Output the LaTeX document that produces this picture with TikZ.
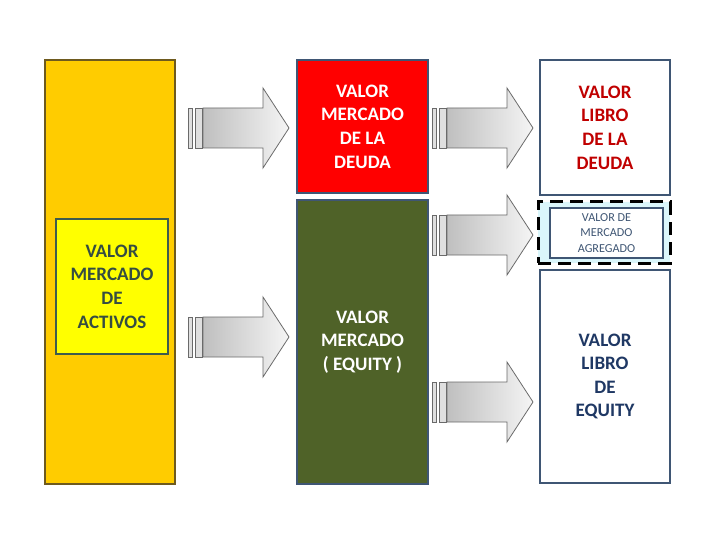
\documentclass[tikz,border=0pt]{standalone}
\usepackage{fontspec}
\setmainfont{Carlito}
\definecolor{gold}{HTML}{FFCC00}
\definecolor{goldline}{HTML}{6E5A1E}
\definecolor{yel}{HTML}{FFFF00}
\definecolor{yelline}{HTML}{3E5B4E}
\definecolor{bluegray}{HTML}{3F5674}
\definecolor{olive}{HTML}{4F6228}
\definecolor{darkred}{HTML}{C00000}
\definecolor{navy}{HTML}{1F3864}
\definecolor{lightcyan}{HTML}{DAF6FB}
\definecolor{arrowline}{HTML}{6A6A6A}
\tikzset{
  panel/.style={rectangle, inner sep=0pt, align=center, line width=2pt, draw=bluegray},
  bigtext/.style={font=\fontsize{19}{23.6}\selectfont\bfseries},
  smalltext/.style={font=\fontsize{12.2}{15.2}\selectfont},
  arrowbody/.style={left color=gray!50, right color=gray!8, draw=arrowline, line width=0.8pt},
  arrowbar/.style={fill=gray!25, draw=arrowline, line width=0.8pt},
}
\newcommand\bigarrow[3]{%
  \begin{scope}[shift={(#1,#2)}]
    \draw[arrowbar] (0,-20) rectangle (4,20);
    \draw[arrowbar] (7,-20) rectangle (14,20);
    \shadedraw[arrowbody] (15,-20) -- (75,-20) -- (75,-40) -- (101,0) -- (75,40) -- (75,20) -- (15,20) -- cycle;
    \coordinate (#3) at (101,0);
  \end{scope}}
\begin{document}
\begin{tikzpicture}[x=1pt,y=-1pt]
\useasboundingbox (0,0) rectangle (720,540);
% left column
\node[rectangle, fill=gold, draw=goldline, line width=1.2pt, minimum width=130pt, minimum height=424pt] (assets) at (110,272) {};
\node[rectangle, fill=yel, draw=yelline, line width=2.5pt, minimum width=112pt, minimum height=135pt, align=center, text=yelline!85!black, bigtext] (activos) at (112,286.5) {VALOR\\MERCADO\\DE\\ACTIVOS};
% left arrows
\bigarrow{188}{128}{a1}
\bigarrow{188}{337}{a2}
% middle column
\node[panel, fill=red, minimum width=131pt, minimum height=133pt, text=white, bigtext] (deuda) at (362.5,126.5) {VALOR\\MERCADO\\DE LA\\DEUDA};
\node[panel, fill=olive, minimum width=131pt, minimum height=284pt, text=white, bigtext] (equity) at (362.5,342) {VALOR\\MERCADO\\( EQUITY )};
% right arrows
\bigarrow{432}{128}{a3}
\bigarrow{432}{235}{a4}
\bigarrow{432}{402}{a5}
% right column
\node[panel, fill=white, minimum width=130pt, minimum height=135pt, text=darkred, bigtext] (libdeuda) at (605,127.5) {VALOR\\LIBRO\\DE LA\\DEUDA};
\node[rectangle, fill=lightcyan, draw=black, line width=3pt, dash pattern=on 13pt off 7pt, minimum width=132pt, minimum height=61pt] (agrbox) at (604,232.5) {};
\node[panel, fill=white, line width=2.5pt, minimum width=113pt, minimum height=50pt, text=bluegray, smalltext] (agregado) at (606.5,233) {VALOR DE\\MERCADO\\AGREGADO};
\node[panel, fill=white, minimum width=130pt, minimum height=213pt, text=navy, bigtext] (libequity) at (605,376.5) {VALOR\\LIBRO\\DE\\EQUITY};
\end{tikzpicture}
\end{document}
